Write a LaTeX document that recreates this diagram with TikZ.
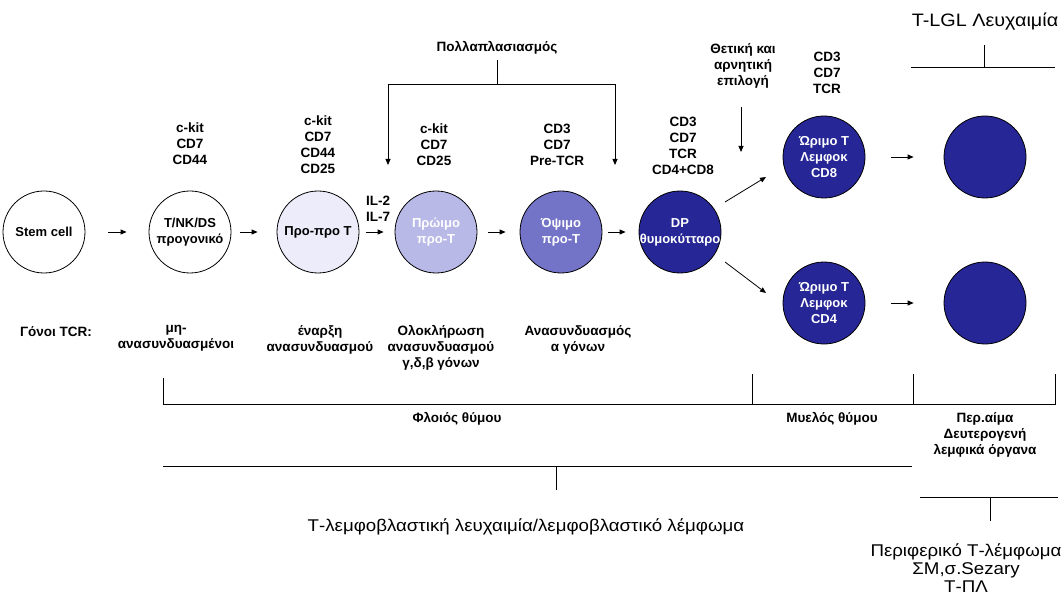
\documentclass[tikz,border=0pt]{standalone}
\usepackage{fontspec}
\setmainfont{Liberation Sans}
\usetikzlibrary{arrows.meta}
\definecolor{cA}{RGB}{236,236,250}
\definecolor{cB}{RGB}{185,185,232}
\definecolor{cC}{RGB}{115,115,200}
\definecolor{cD}{RGB}{38,38,150}
\begin{document}
\begin{tikzpicture}[x=1pt,y=-1pt,
  cell/.style={circle,draw=black,line width=0.8pt,minimum size=82pt,inner sep=0pt},
  ctext/.style={align=center,inner sep=0pt,font=\bfseries\fontsize{13}{16}\selectfont},
  lbl/.style={align=center,inner sep=0pt,font=\bfseries\fontsize{13.5}{16}\selectfont},
  big/.style={align=center,inner sep=0pt,xscale=1.1,font=\fontsize{17}{18}\selectfont},
  arr/.style={-{Triangle[length=6pt,width=5pt]},line width=0.8pt},
  ln/.style={line width=0.8pt},
  gap/.style 2 args={shorten <=#1pt,shorten >=#2pt}]
\useasboundingbox (0,0) rectangle (1064,601);
% cells
\node[cell,label={[ctext]center:Stem cell}] (stem) at (44,232) {};
\node[cell,label={[ctext]center:T/NK/DS\\προγονικό}] (tnk) at (190,232) {};
\node[cell,fill=cA,label={[ctext]center:Προ-προ Τ}] (pp) at (318,232) {};
\node[cell,fill=cB,label={[ctext,text=white]center:Πρώιμο\\προ-Τ}] (early) at (436,232) {};
\node[cell,fill=cC,label={[ctext,text=white]center:Όψιμο\\προ-Τ}] (late) at (561,232) {};
\node[cell,fill=cD,label={[ctext,text=white]center:DP\\θυμοκύτταρο}] (dp) at (680,232) {};
\node[cell,fill=cD,label={[ctext,text=white]center:Ώριμο Τ\\Λεμφοκ\\CD8}] (cd8) at (824,157) {};
\node[cell,fill=cD,label={[ctext,text=white]center:Ώριμο Τ\\Λεμφοκ\\CD4}] (cd4) at (824,303) {};
\node[cell,fill=cD] (lgl) at (985,157) {};
\node[cell,fill=cD] (per) at (985,303) {};
% row arrows
\draw[arr,gap={23}{22}] (stem) -- (tnk);
\draw[arr,gap={9}{19}] (tnk) -- (pp);
\draw[arr,gap={7}{11}] (pp) -- (early);
\draw[arr,gap={11}{14}] (early) -- (late);
\draw[arr,gap={6}{13}] (late) -- (dp);
\draw[arr] ([shift={(45,-30)}]dp.center) -- ([shift={(-58,20)}]cd8.center);
\draw[arr] ([shift={(45,30)}]dp.center) -- ([shift={(-58,-10)}]cd4.center);
\draw[arr,gap={26}{30}] (cd8) -- (lgl);
\draw[arr,gap={26}{30}] (cd4) -- (per);
% marker labels
\node[lbl] (mk1) at (190,144) {c-kit\\CD7\\CD44};
\node[lbl] (mk2) at (318,145) {c-kit\\CD7\\CD44\\CD25};
\node[lbl] (mk3) at (434,145) {c-kit\\CD7\\CD25};
\node[lbl] (mk4) at (557,145) {CD3\\CD7\\Pre-TCR};
\node[lbl] (mk5) at (683,146) {CD3\\CD7\\TCR\\CD4+CD8};
\node[lbl] (mk6) at (827,73) {CD3\\CD7\\TCR};
\node[lbl,anchor=west,align=left] (il) at (366,209) {IL-2\\IL-7};
% selection
\node[lbl] (sel) at (743,66) {Θετική και\\αρνητική\\επιλογή};
\coordinate (selend) at (741,152);
\draw[arr] (sel.south -| selend) ++(0,18) -- (selend);
% proliferation
\node[lbl] (prol) at (497,48) {Πολλαπλασιασμός};
\coordinate (pj) at (497,84);
\coordinate (pla) at (388,165);
\coordinate (pra) at (615,165);
\draw[ln,shorten <=5pt] (prol.south) -- (pj);
\draw[arr] (pj) -| (pla);
\draw[arr] (pj) -| (pra);
% TCR genes
\node[lbl] (tcr) at (56,332) {Γόνοι TCR:};
\node[lbl,anchor=north] (g1) at (176,325) {μη-\\ανασυνδυασμένοι};
\node[lbl,anchor=north] (g2) at (320,325) {έναρξη\\ανασυνδυασμού};
\node[lbl,anchor=north] (g3) at (441,325) {Ολοκλήρωση\\ανασυνδυασμού\\γ,δ,β γόνων};
\node[lbl,anchor=north] (g4) at (578,325) {Ανασυνδυασμός\\α γόνων};
% bracket 1
\coordinate (b1l) at (163,378);
\coordinate (b1r) at (1055,374);
\coordinate (b1m) at (752,374);
\coordinate (b1n) at (913,374);
\draw[ln] (b1l) |- (b1r |- 0,404) -- (b1r);
\draw[ln] (b1m) -- (b1m |- 0,404);
\draw[ln] (b1n) -- (b1n |- 0,404);
\node[lbl,anchor=north] (cortex) at (457,412) {Φλοιός θύμου};
\node[lbl,anchor=north] (medulla) at (832,412) {Μυελός θύμου};
\node[lbl,anchor=north] (periph) at (985,412) {Περ.αίμα\\Δευτερογενή\\λεμφικά όργανα};
% bracket 2
\coordinate (b2l) at (163,466);
\coordinate (b2r) at (912,466);
\coordinate (b2m) at (556,466);
\coordinate (b2e) at (556,490);
\draw[ln] (b2l) -- (b2r);
\draw[ln] (b2m) -- (b2e);
\node[big] (tall) at (526,527) {Τ-λεμφοβλαστική λευχαιμία/λεμφοβλαστικό λέμφωμα};
% bracket 3
\coordinate (b3l) at (920,497);
\coordinate (b3r) at (1058,497);
\coordinate (b3m) at (990,497);
\coordinate (b3e) at (990,521);
\draw[ln] (b3l) -- (b3r);
\draw[ln] (b3m) -- (b3e);
\node[big,anchor=north] (ptcl) at (966,543) {Περιφερικό Τ-λέμφωμα\\ΣΜ,σ.Sezary\\Τ-ΠΛ};
% T-LGL
\node[big,font=\fontsize{18}{20}\selectfont] (tlgl) at (985,22) {T-LGL Λευχαιμία};
\coordinate (t1l) at (911,67);
\coordinate (t1r) at (1055,67);
\coordinate (t1m) at (984,67);
\coordinate (t1t) at (984,45);
\draw[ln] (t1l) -- (t1r);
\draw[ln] (t1m) -- (t1t);
\end{tikzpicture}
\end{document}
